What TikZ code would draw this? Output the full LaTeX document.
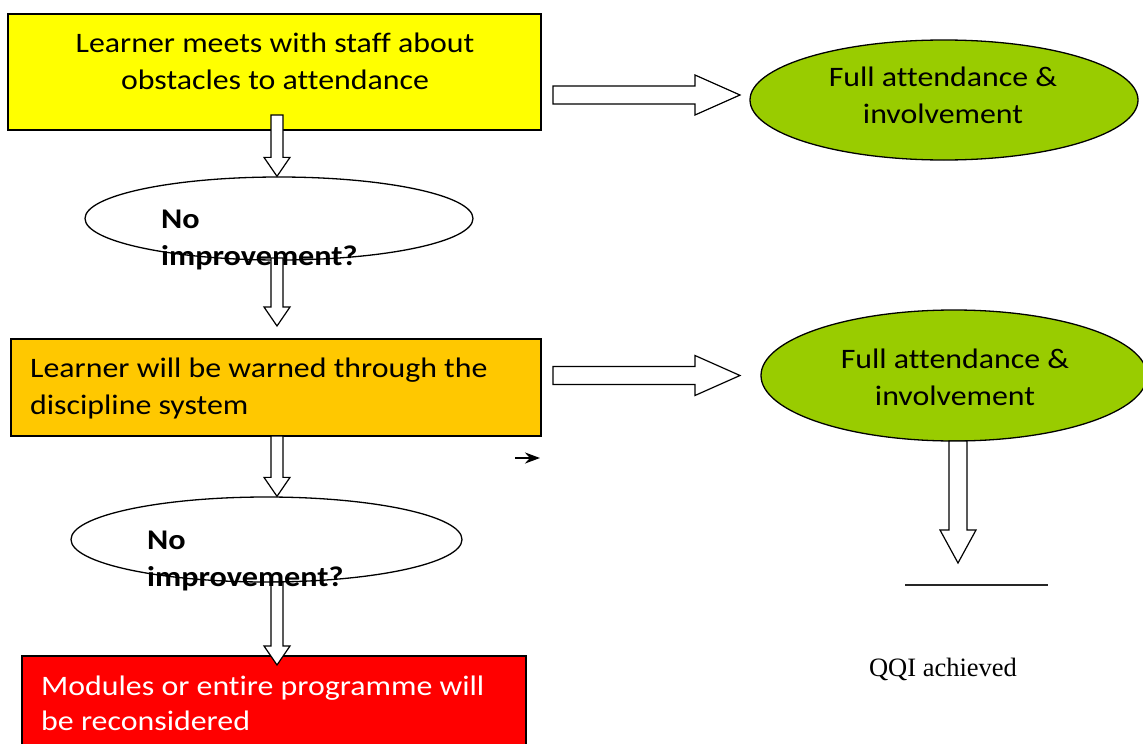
\documentclass[tikz,border=0pt]{standalone}
\usepackage{fontspec}
\setmainfont[Ligatures=NoCommon, FakeStretch=1.13]{Carlito}
\newfontfamily\serifqqi{Liberation Serif}
\usetikzlibrary{shapes.geometric,calc,arrows.meta}
\definecolor{cyellow}{RGB}{255,255,0}
\definecolor{corange}{RGB}{255,200,0}
\definecolor{cred}{RGB}{255,0,0}
\definecolor{cgreen}{RGB}{153,204,0}
\tikzset{
  boxnode/.style={draw=black, line width=1.8pt, rectangle, inner sep=0pt},
  ellnode/.style={draw=black, line width=1.3pt, ellipse, inner sep=0pt},
  bodytxt/.style={font=\fontsize{28.2}{37}\selectfont, inner sep=0pt, align=center},
  boldtxt/.style={font=\fontsize{28.5}{37}\selectfont\bfseries, inner sep=0pt, align=left},
  bdown/.style={draw=black, fill=white, line width=1.2pt, line join=miter,
    to path={let \p1=(\tikztostart), \p2=(\tikztotarget) in
      (\x1-6pt,\y1) -- (\x1+6pt,\y1) -- (\x1+6pt,\y2+19pt) -- (\x1+13pt,\y2+19pt)
      -- (\x1,\y2) -- (\x1-13pt,\y2+19pt) -- (\x1-6pt,\y2+19pt) -- cycle}},
  bdownwide/.style={draw=black, fill=white, line width=1.2pt, line join=miter,
    to path={let \p1=(\tikztostart), \p2=(\tikztotarget) in
      (\x1-9pt,\y1) -- (\x1+9pt,\y1) -- (\x1+9pt,\y2+33pt) -- (\x1+18pt,\y2+33pt)
      -- (\x1,\y2) -- (\x1-18pt,\y2+33pt) -- (\x1-9pt,\y2+33pt) -- cycle}},
  bright/.style={draw=black, fill=white, line width=1.2pt, line join=miter,
    to path={let \p1=(\tikztostart), \p2=(\tikztotarget) in
      (\x1,\y1+9pt) -- (\x2-45pt,\y1+9pt) -- (\x2-45pt,\y1+20pt) -- (\x2,\y1)
      -- (\x2-45pt,\y1-20pt) -- (\x2-45pt,\y1-9pt) -- (\x1,\y1-9pt) -- cycle}},
}
\begin{document}
\begin{tikzpicture}[x=1pt,y=-1pt]
\useasboundingbox (0,0) rectangle (1143,744);
\clip (0,0) rectangle (1143,744);
\fill[white] (0,0) rectangle (1143,744);

% boxes
\node[boxnode, fill=cyellow, minimum width=533pt, minimum height=116pt] (b1) at (274.5,72) {};
\node[boxnode, fill=corange, minimum width=530pt, minimum height=97pt] (b2) at (276,387.5) {};
\node[boxnode, fill=cred, minimum width=504pt, minimum height=110pt] (b3) at (274,711) {};

% ellipses
\node[ellnode, fill=white, minimum width=388pt, minimum height=83pt] (e1) at (279,218.5) {};
\node[ellnode, fill=white, minimum width=391pt, minimum height=85pt] (e2) at (266.5,539.5) {};
\node[ellnode, fill=cgreen, minimum width=388pt, minimum height=120pt] (g1) at (944,100) {};
\node[ellnode, fill=cgreen, minimum width=386pt, minimum height=131pt] (g2) at (954,375.5) {};

% block arrows
\coordinate (a1s) at (277,115);
\coordinate (a2s) at (277,258);
\coordinate (a2e) at (277,326);
\coordinate (a3s) at (277,436);
\coordinate (a4s) at (277,582);
\coordinate (a4e) at (277,665);
\coordinate (r1s) at (553,95);
\coordinate (r1e) at (740,95);
\coordinate (r2s) at (553,375.5);
\coordinate (r2e) at (740,375.5);
\coordinate (dgs) at (958,441);
\coordinate (dge) at (958,563);
\draw[bdown] (a1s) to (e1.north);
\draw[bdown] (a2s) to (a2e);
\draw[bdown] (a3s) to (e2.north);
\draw[bdown] (a4s) to (a4e);
\draw[bright] (r1s) to (r1e);
\draw[bright] (r2s) to (r2e);
\draw[bdownwide] (dgs) to (dge);

% texts
\node[bodytxt, anchor=base] (t1a) at (275,52) {Learner meets with staff about};
\node[bodytxt, anchor=base] (t1b) at (275,89) {obstacles to attendance};
\node[bodytxt, anchor=base west] (t2a) at (30,377) {Learner will be warned through the};
\node[bodytxt, anchor=base west] (t2b) at (30,414) {discipline system};
\node[bodytxt, anchor=base west, text=white] (t3a) at (41,695) {Modules or entire programme will};
\node[bodytxt, anchor=base west, text=white] (t3b) at (41,730) {be reconsidered};
\node[bodytxt, anchor=base] (tg1a) at (943,86) {Full attendance \&};
\node[bodytxt, anchor=base] (tg1b) at (943,123) {involvement};
\node[bodytxt, anchor=base] (tg2a) at (955,368) {Full attendance \&};
\node[bodytxt, anchor=base] (tg2b) at (955,405) {involvement};
\node[boldtxt, anchor=base west] (n1a) at (161,228) {No};
\node[boldtxt, anchor=base west] (n1b) at (161,265) {improvement?};
\node[boldtxt, anchor=base west] (n2a) at (147,549) {No};
\node[boldtxt, anchor=base west] (n2b) at (147,586) {improvement?};
\node[font=\serifqqi\fontsize{26.5}{30}\selectfont, inner sep=0pt, anchor=base] (qqi) at (943,676) {QQI achieved};

% small arrow and line
\coordinate (sa1) at (515,458);
\coordinate (sa2) at (540,458);
\draw[line width=2.2pt, -{Stealth[length=15pt,width=11pt]}] (sa1) -- (sa2);
\coordinate (hl1) at (905,585);
\coordinate (hl2) at (1048,585);
\draw[line width=1.5pt, black!85] (hl1) -- (hl2);
\end{tikzpicture}
\end{document}
